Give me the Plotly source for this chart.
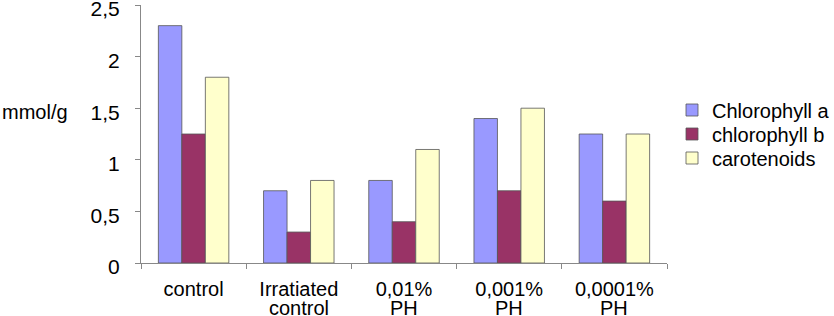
import plotly.graph_objects as go

cat_line1 = ["control", "Irratiated", "0,01%", "0,001%", "0,0001%"]
cat_line2 = ["", "control", "PH", "PH", "PH"]
chlorophyll_a = [2.3, 0.7, 0.8, 1.4, 1.25]
chlorophyll_b = [1.25, 0.3, 0.4, 0.7, 0.6]
carotenoids = [1.8, 0.8, 1.1, 1.5, 1.25]
series_names = ["Chlorophyll a", "chlorophyll b", "carotenoids"]
series_colors = ["#9999FF", "#993366", "#FFFFCC"]
y_tickvals = [0, 0.5, 1, 1.5, 2, 2.5]
y_ticktext = ["0", "0,5", "1", "1,5", "2", "2,5"]

FONT = "Liberation Sans, Arial, sans-serif"
FS = 20

W, H = 834, 316
L, R, T, B = 141, 167, 5, 53
PW, PH = W - L - R, H - T - B

fig = go.Figure()
legend_keys = ["legend", "legend2", "legend3"]
for name, vals, col, lk in zip(series_names, [chlorophyll_a, chlorophyll_b, carotenoids],
                               series_colors, legend_keys):
    fig.add_trace(go.Bar(
        x=cat_line1, y=vals, name=name, legend=lk,
        marker=dict(color=col, line=dict(color="#555555", width=0.8)),
    ))

legend_rows_px = [110, 134, 158]
legend_common = dict(x=1.0 + 5 / PW, xanchor="left", yanchor="middle",
                     font=dict(size=FS, family=FONT), bgcolor="rgba(0,0,0,0)",
                     itemwidth=30, borderwidth=0)
legends = {}
for lk, ypx in zip(legend_keys, legend_rows_px):
    legends[lk] = dict(legend_common, y=(T + PH - ypx) / PH)

annotations = [dict(
    text="mmol/g", xref="paper", yref="paper",
    x=-L / PW, xanchor="left", y=1.5 / 2.5, yshift=-4, yanchor="middle",
    showarrow=False, font=dict(size=FS, family=FONT),
)]
for c1, c2 in zip(cat_line1, cat_line2):
    if c2:
        annotations.append(dict(
            text=c2, xref="x", yref="paper", x=c1, y=0, yshift=-45,
            xanchor="center", yanchor="middle", showarrow=False,
            font=dict(size=FS, family=FONT),
        ))

fig.update_layout(
    width=W, height=H,
    margin=dict(l=L, r=R, t=T, b=B, pad=0, autoexpand=False),
    paper_bgcolor="white", plot_bgcolor="white",
    font=dict(family=FONT, size=FS, color="black"),
    barmode="group", bargap=0.33, bargroupgap=0,
    showlegend=True,
    xaxis=dict(
        type="category", showline=True, linecolor="#888888", linewidth=1,
        ticks="outside", tickson="boundaries", ticklen=5, tickcolor="#888888",
        showgrid=False, tickfont=dict(size=FS), automargin=False,
        ticklabelstandoff=8,
    ),
    yaxis=dict(
        range=[0, 2.5], tickvals=y_tickvals, ticktext=y_ticktext,
        showline=True, linecolor="#888888", linewidth=1,
        ticks="outside", ticklen=5, tickcolor="#888888",
        showgrid=False, zeroline=False, tickfont=dict(size=FS + 1),
        ticklabelstandoff=11, ticklabelshift=4, ticklabeloverflow="allow",
        automargin=False,
    ),
    annotations=annotations,
    **legends,
)

fig.write_html("out.html", config={"displayModeBar": False},
               post_script="document.body.style.margin='0';document.body.style.padding='0';")
